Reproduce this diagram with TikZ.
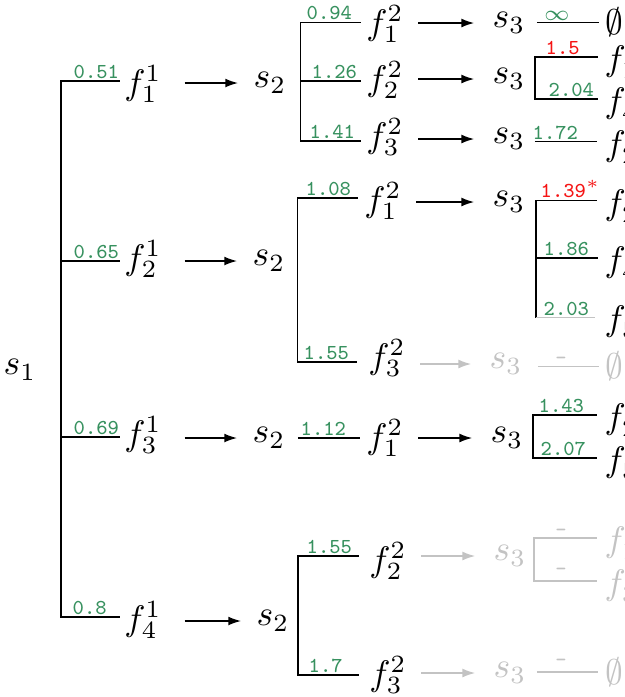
\documentclass[tikz,border=0pt]{standalone}
\usepackage{fontspec}
\usetikzlibrary{arrows.meta}
\definecolor{lg}{RGB}{55,145,95}
\definecolor{lr}{RGB}{245,20,20}
\definecolor{gr}{RGB}{195,195,195}
\tikzset{
  every node/.style={inner sep=0pt},
  lab/.style={font=\fontsize{6}{7}\selectfont\ttfamily, text=lg, anchor=base west},
  rlab/.style={lab, text=lr},
  glab/.style={lab, text=gr},
  br/.style={line width=0.45pt, draw=black},
  gbr/.style={line width=0.45pt, draw=gr},
  arr/.style={-{Latex[length=3.6pt,width=2.5pt]}, line width=0.45pt},
  arra/.style={arr, shorten <=6.3pt, shorten >=4.2pt},
  arrb/.style={arr, shorten <=4pt, shorten >=5pt},
  garr/.style={arrb, draw=gr},
  leaf/.style={anchor=west},
  gray/.style={text=gr},
}
\begin{document}
\begin{tikzpicture}[x=0.2817pt,y=-0.2817pt]
\useasboundingbox (0,0) rectangle (625,697);

% level 0 / 1
\node (s1) at (20,370) {$s_1$};
\node (f11) at (143,84) {$f^1_1$};
\node (f12) at (143,259) {$f^1_2$};
\node (f13) at (143,435) {$f^1_3$};
\node (f14) at (143,620) {$f^1_4$};
\coordinate (b0t) at (61,81);
\coordinate (b0b) at (61,617);
\coordinate (e11) at (120,81);
\coordinate (e12) at (120,261);
\coordinate (e13) at (120,437);
\coordinate (e14) at (120,617);
\draw[br] (e11) -- (b0t) -- (b0b) -- (e14);
\draw[br] (b0t |- e12) -- (e12);
\draw[br] (b0t |- e13) -- (e13);
\node[lab] at (73,78) {0.51};
\node[lab] at (73,258) {0.65};
\node[lab] at (73,434) {0.69};
\node[lab] at (72,614) {0.8};

% level 1 s2 nodes
\node (s2a) at (270,83) {$s_2$};
\node (s2b) at (269,261) {$s_2$};
\node (s2c) at (269,438) {$s_2$};
\node (s2d) at (273,621) {$s_2$};
\draw[arra] (f11.east |- s2a.west) -- (s2a.west);
\draw[arra] (f12.east |- s2b.west) -- (s2b.west);
\draw[arra] (f13.east |- s2c.west) -- (s2c.west);
\draw[arra] (f14.east |- s2d.west) -- (s2d.west);

% group a
\node (f21a) at (385,24) {$f^2_1$};
\node (f22a) at (385,80) {$f^2_2$};
\node (f23a) at (385,137) {$f^2_3$};
\coordinate (bat) at (300.5,22.5);
\coordinate (bab) at (300.5,141);
\coordinate (ea1) at (361,22.5);
\coordinate (ea2) at (361,81);
\coordinate (ea3) at (361,141);
\draw[br] (ea1) -- (bat) -- (bab) -- (ea3);
\draw[br] (bat |- ea2) -- (ea2);
\node[lab] at (306,19.5) {0.94};
\node[lab] at (311,78) {1.26};
\node[lab] at (309,138) {1.41};

% group b
\node (f21b) at (383,201) {$f^2_1$};
\node (f23b) at (387,358) {$f^2_3$};
\coordinate (bbt) at (297.5,198);
\coordinate (bbb) at (297.5,362);
\coordinate (eb1) at (358,198);
\coordinate (eb2) at (357,362);
\draw[br] (eb1) -- (bbt) -- (bbb) -- (eb2);
\node[lab] at (305,195) {1.08};
\node[lab] at (303,359) {1.55};

% group c
\node (f21c) at (385,438) {$f^2_1$};
\coordinate (ec0) at (298,438);
\coordinate (ec1) at (360,438);
\draw[br] (ec0) -- (ec1);
\node[lab] at (300,435) {1.12};

% group d
\node (f22d) at (388,561) {$f^2_2$};
\node (f23d) at (388,675) {$f^2_3$};
\coordinate (bdt) at (298,556);
\coordinate (bdb) at (298,675);
\coordinate (ed1) at (359,556);
\coordinate (ed2) at (359,675);
\draw[br] (ed1) -- (bdt) -- (bdb) -- (ed2);
\node[lab] at (306,553) {1.55};
\node[lab] at (308,672) {1.7};

% s3 nodes
\node (s3a) at (509,23) {$s_3$};
\node (s3b) at (509,79) {$s_3$};
\node (s3c) at (509,139) {$s_3$};
\node (s3d) at (509,202) {$s_3$};
\node[gray] (s3e) at (506,364) {$s_3$};
\node (s3f) at (507,438) {$s_3$};
\node[gray] (s3g) at (510,556) {$s_3$};
\node[gray] (s3h) at (510,673) {$s_3$};
\draw[arrb] (f21a.east |- s3a.west) -- (s3a.west);
\draw[arrb] (f22a.east |- s3b.west) -- (s3b.west);
\draw[arrb] (f23a.east |- s3c.west) -- (s3c.west);
\draw[arrb] (f21b.east |- s3d.west) -- (s3d.west);
\draw[garr] (f23b.east |- s3e.west) -- (s3e.west);
\draw[arrb] (f21c.east |- s3f.west) -- (s3f.west);
\draw[garr] (f22d.east |- s3g.west) -- (s3g.west);
\draw[garr] (f23d.east |- s3h.west) -- (s3h.west);

% level 3: s3a
\coordinate (ga0) at (537,22.5);
\coordinate (ga1) at (599,22.5);
\draw[br] (ga0) -- (ga1);
\node[text=lg, font=\fontsize{6}{7}\selectfont, anchor=base] at (557,20) {$\infty$};
\node (ea) at (614,22) {$\emptyset$};

% s3b
\coordinate (gbt) at (535,57);
\coordinate (gbb) at (535,99);
\coordinate (gb1) at (598,57);
\coordinate (gb2) at (598,99);
\draw[br] (gb1) -- (gbt) -- (gbb) -- (gb2);
\node[rlab] at (545,54.5) {1.5};
\node[lab] at (548,96.5) {2.04};
\node[leaf] (hb1) at (604,60) {$f^3_1$};
\node[leaf] (hb2) at (604,102) {$f^3_4$};

% s3c
\coordinate (gc0) at (535,141.5);
\coordinate (gc1) at (597,141.5);
\draw[br] (gc0) -- (gc1);
\node[lab] at (532,139) {1.72};
\node[leaf] (hc1) at (604,145) {$f^3_2$};

% s3d
\coordinate (gdt) at (536,200.5);
\coordinate (gdb) at (536,317.5);
\coordinate (gd1) at (597,200.5);
\coordinate (gd2) at (598,258);
\coordinate (gd3) at (595,317.5);
\draw[br] (gd1) -- (gdt) -- (gdb);
\draw[br] (gdt |- gd2) -- (gd2);
\draw[gbr] (gdb) -- (gd3);
\node[rlab] at (540,197.5) {1.39$^*$};
\node[lab] at (543,255.5) {1.86};
\node[lab] at (543,315) {2.03};
\node[leaf] (hd1) at (604,204) {$f^3_2$};
\node[leaf] (hd2) at (604,261) {$f^3_4$};
\node[leaf] (hd3) at (604,320) {$f^3_5$};

% s3e (gray)
\coordinate (ge0) at (538,366.5);
\coordinate (ge1) at (599,366.5);
\draw[gbr] (ge0) -- (ge1);
\node[glab, anchor=base] at (561,364) {-};
\node[gray] (ee) at (614,366) {$\emptyset$};

% s3f
\coordinate (gft) at (533,415);
\coordinate (gfb) at (533,458);
\coordinate (gf1) at (597,415);
\coordinate (gf2) at (597,458);
\draw[br] (gf1) -- (gft) -- (gfb) -- (gf2);
\node[lab] at (538,412) {1.43};
\node[lab] at (540,455.5) {2.07};
\node[leaf] (hf1) at (604,418) {$f^3_2$};
\node[leaf] (hf2) at (604,461) {$f^3_5$};

% s3g (gray)
\coordinate (ggt) at (534,538);
\coordinate (ggb) at (534,581);
\coordinate (gg1) at (597,538);
\coordinate (gg2) at (597,581);
\draw[gbr] (gg1) -- (ggt) -- (ggb) -- (gg2);
\node[glab, anchor=base] at (561,536) {-};
\node[glab, anchor=base] at (561,575) {-};
\node[leaf, gray] (hg1) at (604,541) {$f^3_1$};
\node[leaf, gray] (hg2) at (604,584) {$f^3_3$};

% s3h (gray)
\coordinate (gh0) at (537,672);
\coordinate (gh1) at (598,672);
\draw[gbr] (gh0) -- (gh1);
\node[glab, anchor=base] at (561,666) {-};
\node[gray] (eh) at (614,672) {$\emptyset$};
\end{tikzpicture}
\end{document}
